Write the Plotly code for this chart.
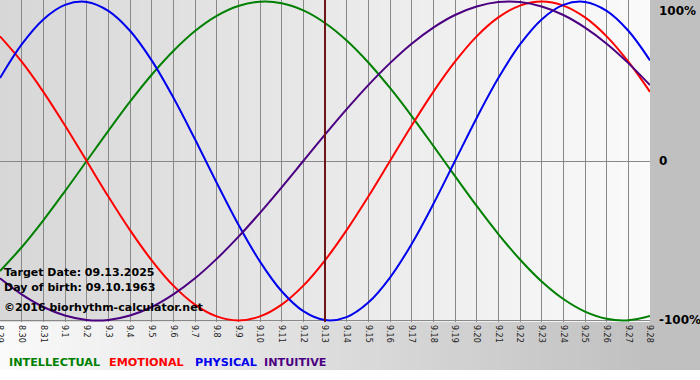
import plotly.graph_objects as go

# ---- data -------------------------------------------------------------
dates = ["8.29", "8.30", "8.31", "9.1", "9.2", "9.3", "9.4", "9.5", "9.6", "9.7",
         "9.8", "9.9", "9.10", "9.11", "9.12", "9.13", "9.14", "9.15", "9.16", "9.17",
         "9.18", "9.19", "9.20", "9.21", "9.22", "9.23", "9.24", "9.25", "9.26", "9.27",
         "9.28"]

intellectual = [-0.690, -0.541, -0.372, -0.189, 0.000, 0.189, 0.372, 0.541, 0.690, 0.815,
                0.910, 0.972, 0.999, 0.990, 0.945, 0.866, 0.756, 0.618, 0.458, 0.282,
                0.095, -0.095, -0.282, -0.458, -0.618, -0.756, -0.866, -0.945, -0.990, -0.999,
                -0.972]
emotional = [0.782, 0.623, 0.434, 0.223, 0.000, -0.223, -0.434, -0.623, -0.782, -0.901,
             -0.975, -1.000, -0.975, -0.901, -0.782, -0.623, -0.434, -0.223, 0.000, 0.223,
             0.434, 0.623, 0.782, 0.901, 0.975, 1.000, 0.975, 0.901, 0.782, 0.623,
             0.434]
physical = [0.520, 0.731, 0.888, 0.979, 0.998, 0.942, 0.817, 0.631, 0.398, 0.136,
            -0.136, -0.398, -0.631, -0.817, -0.942, -0.998, -0.979, -0.888, -0.731, -0.520,
            -0.270, 0.000, 0.270, 0.520, 0.731, 0.888, 0.979, 0.998, 0.942, 0.817,
            0.631]
intuitive = [-0.736, -0.837, -0.916, -0.969, -0.997, -0.997, -0.969, -0.916, -0.837, -0.736,
             -0.614, -0.476, -0.325, -0.165, 0.000, 0.165, 0.325, 0.476, 0.614, 0.736,
             0.837, 0.916, 0.969, 0.997, 0.997, 0.969, 0.916, 0.837, 0.736, 0.614,
             0.476]

series_names = ["INTELLECTUAL", "EMOTIONAL", "PHYSICAL", "INTUITIVE"]
series_values = [intellectual, emotional, physical, intuitive]
series_colors = ["#008000", "#ff0000", "#0000ee", "#4b0082"]

target_day = "9.13"
info_lines = ["Target Date: 09.13.2025", "Day of birth: 09.10.1963",
              "\u00a92016 biorhythm-calculator.net"]
right_labels = ["100%", "0", "-100%"]
right_label_values = [1, 0, -1]

# ---- layout geometry ------------------------------------------------------
W, H = 700, 380
ML, MR, MT, MB = 0, 50, 0, 58
PW, PH = W - ML - MR, H - MT - MB


def px_x(px):
    return (px - ML) / PW


def px_y(py):
    return (MT + PH - py) / PH


fig = go.Figure()

for name, vals, col in zip(series_names, series_values, series_colors):
    fig.add_trace(go.Scatter(
        x=dates, y=vals, mode="lines", name=name,
        line=dict(color=col, width=2, shape="spline", smoothing=1.0),
        hoverinfo="skip", showlegend=False,
    ))

shapes = []
# outer gradient (white -> gray, left to right)
n_out = 70
for i in range(n_out):
    x0 = i * W / n_out
    x1 = (i + 1) * W / n_out
    xm = (x0 + x1) / 2
    t = min(xm / 650.0, 1.0)
    g = int(round(250 - (250 - 192) * t))
    shapes.append(dict(type="rect", xref="paper", yref="paper",
                       x0=px_x(x0), x1=px_x(x1 + 0.6), y0=px_y(370), y1=px_y(0),
                       fillcolor=f"rgb({g},{g},{g})", line=dict(width=0),
                       layer="below"))
# plot-area gradient (darker left -> lighter right)
n_in = 65
for i in range(n_in):
    x0 = i * PW / n_in
    x1 = (i + 1) * PW / n_in
    t = ((x0 + x1) / 2) / PW
    g = int(round(215 + (250 - 215) * t))
    shapes.append(dict(type="rect", xref="paper", yref="paper",
                       x0=px_x(x0), x1=min(px_x(x1 + 0.6), 1.0), y0=0, y1=1,
                       fillcolor=f"rgb({g},{g},{g})", line=dict(width=0),
                       layer="below"))
# target-date marker
shapes.append(dict(type="line", xref="x", yref="paper",
                   x0=dates.index(target_day), x1=dates.index(target_day),
                   y0=0, y1=1, line=dict(color="#6e1616", width=2), layer="above"))

annotations = []
info_y = [272, 287, 307]
for txt, yy in zip(info_lines, info_y):
    annotations.append(dict(text=txt, xref="paper", yref="paper",
                            x=px_x(2), y=px_y(yy), xanchor="left", yanchor="middle",
                            showarrow=False,
                            font=dict(family="DejaVu Sans", size=11, color="#000000",
                                      weight="bold")))
for txt, v in zip(right_labels, right_label_values):
    annotations.append(dict(text=txt, xref="paper", yref="y",
                            x=px_x(657), y=v, xanchor="left",
                            yanchor="top" if v == 1 else "middle",
                            showarrow=False,
                            font=dict(family="DejaVu Sans", size=12, color="#000000",
                                      weight="bold")))
legend_x = [7, 107, 193, 262]
for name, col, lx in zip(series_names, series_colors, legend_x):
    annotations.append(dict(text=name, xref="paper", yref="paper",
                            x=px_x(lx), y=px_y(362), xanchor="left", yanchor="middle",
                            showarrow=False,
                            font=dict(family="DejaVu Sans", size=11.2, color=col,
                                      weight="bold")))

fig.update_layout(
    width=W, height=H,
    margin=dict(l=ML, r=MR, t=MT, b=MB, pad=0, autoexpand=False),
    paper_bgcolor="#ffffff",
    plot_bgcolor="rgba(0,0,0,0)",
    shapes=shapes,
    annotations=annotations,
    showlegend=False,
    xaxis=dict(type="category", categoryorder="array", categoryarray=dates,
               range=[0, len(dates) - 1], showgrid=True, gridcolor="#888888",
               gridwidth=1, zeroline=False, showline=False, ticks="",
               tickangle=90, ticklabelstandoff=2, automargin=False,
               tickfont=dict(family="DejaVu Sans", size=8, color="#222222"),
               fixedrange=True),
    yaxis=dict(range=[-1.01, 1.01], tickvals=[-1, 0], showticklabels=False,
               showgrid=True, gridcolor="#888888", gridwidth=1, zeroline=False,
               ticks="", automargin=False, fixedrange=True),
)

fig.write_html("out.html", config={"displayModeBar": False},
               post_script="document.body.style.margin='0';document.body.style.padding='0';")
